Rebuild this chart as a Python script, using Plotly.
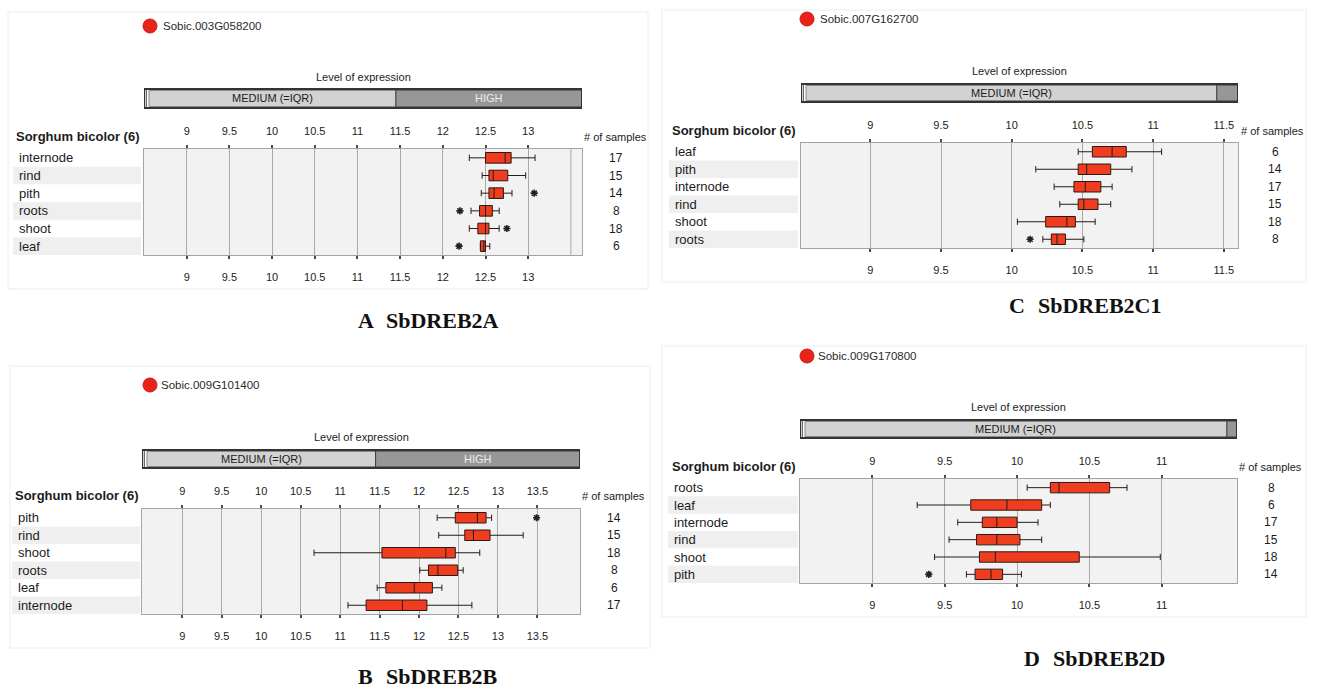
import plotly.graph_objects as go

W, H = 1318, 692

# ---------------- data ----------------
GENE_A = "Sobic.003G058200"
NAME_A = "SbDREB2A"
TISSUES_A = ["internode", "rind", "pith", "roots", "shoot", "leaf"]
COUNTS_A = [17, 15, 14, 8, 18, 6]
LOW_A = [12.31, 12.46, 12.45, 12.33, 12.31, 12.44]
Q1_A = [12.50, 12.54, 12.54, 12.43, 12.41, 12.44]
MED_A = [12.73, 12.59, 12.60, 12.50, 12.50, 12.48]
Q3_A = [12.80, 12.76, 12.71, 12.58, 12.54, 12.50]
HIGH_A = [13.08, 12.97, 12.81, 12.66, 12.66, 12.55]
OUT_TISSUE_A = ["pith", "roots", "shoot", "leaf"]
OUT_VALUE_A = [13.07, 12.20, 12.75, 12.19]
TICKS_A = [9, 9.5, 10, 10.5, 11, 11.5, 12, 12.5, 13]

GENE_B = "Sobic.009G101400"
NAME_B = "SbDREB2B"
TISSUES_B = ["pith", "rind", "shoot", "roots", "leaf", "internode"]
COUNTS_B = [14, 15, 18, 8, 6, 17]
LOW_B = [12.23, 12.25, 10.67, 12.01, 11.47, 11.10]
Q1_B = [12.46, 12.58, 11.53, 12.12, 11.58, 11.33]
MED_B = [12.74, 12.69, 12.34, 12.24, 11.94, 11.79]
Q3_B = [12.85, 12.90, 12.46, 12.49, 12.17, 12.10]
HIGH_B = [12.92, 13.32, 12.77, 12.56, 12.29, 12.67]
OUT_TISSUE_B = ["pith"]
OUT_VALUE_B = [13.49]
TICKS_B = [9, 9.5, 10, 10.5, 11, 11.5, 12, 12.5, 13, 13.5]

GENE_C = "Sobic.007G162700"
NAME_C = "SbDREB2C1"
TISSUES_C = ["leaf", "pith", "internode", "rind", "shoot", "roots"]
COUNTS_C = [6, 14, 17, 15, 18, 8]
LOW_C = [10.47, 10.17, 10.30, 10.34, 10.04, 10.22]
Q1_C = [10.57, 10.47, 10.44, 10.47, 10.24, 10.28]
MED_C = [10.71, 10.53, 10.52, 10.51, 10.39, 10.32]
Q3_C = [10.81, 10.70, 10.63, 10.61, 10.45, 10.38]
HIGH_C = [11.06, 10.85, 10.71, 10.70, 10.59, 10.51]
OUT_TISSUE_C = ["roots"]
OUT_VALUE_C = [10.13]
TICKS_C = [9, 9.5, 10, 10.5, 11, 11.5]

GENE_D = "Sobic.009G170800"
NAME_D = "SbDREB2D"
TISSUES_D = ["roots", "leaf", "internode", "rind", "shoot", "pith"]
COUNTS_D = [8, 6, 17, 15, 18, 14]
LOW_D = [10.07, 9.31, 9.59, 9.53, 9.43, 9.65]
Q1_D = [10.23, 9.68, 9.76, 9.72, 9.74, 9.71]
MED_D = [10.29, 9.93, 9.86, 9.86, 9.85, 9.82]
Q3_D = [10.64, 10.17, 10.00, 10.02, 10.43, 9.90]
HIGH_D = [10.76, 10.23, 10.145, 10.17, 10.99, 10.03]
OUT_TISSUE_D = ["pith"]
OUT_VALUE_D = [9.39]
TICKS_D = [9, 9.5, 10, 10.5, 11]

# boundary between MEDIUM and HIGH expression levels
HIGH_LEVEL = 11.45
SPECIES = "Sorghum bicolor (6)"

# ---------------- panel geometry (pixels) ----------------
PANELS = [
    dict(letter="A", gene=GENE_A, name=NAME_A, tissues=TISSUES_A, counts=COUNTS_A,
         low=LOW_A, q1=Q1_A, med=MED_A, q3=Q3_A, high=HIGH_A,
         out_t=OUT_TISSUE_A, out_v=OUT_VALUE_A, ticks=TICKS_A, extra_grid=[13.5],
         xr=[8.5, 13.63], plot=(144, 149, 582, 255), bar=(89, 108), level_y=77,
         dot=(150, 26), gene_x=161, sp=(14, 136), band=(13, 141),
         ns=(615, 137), cnt_x=616, cap=(357, 385, 321), frame=(8, 12, 648, 289)),
    dict(letter="B", gene=GENE_B, name=NAME_B, tissues=TISSUES_B, counts=COUNTS_B,
         low=LOW_B, q1=Q1_B, med=MED_B, q3=Q3_B, high=HIGH_B,
         out_t=OUT_TISSUE_B, out_v=OUT_VALUE_B, ticks=TICKS_B, extra_grid=[],
         xr=[8.49, 14.04], plot=(142, 509, 580, 614), bar=(450, 468), level_y=437,
         dot=(150, 385), gene_x=159, sp=(13, 495), band=(12, 140),
         ns=(613, 496), cnt_x=614, cap=(357, 385, 676), frame=(10, 366, 650, 648)),
    dict(letter="C", gene=GENE_C, name=NAME_C, tissues=TISSUES_C, counts=COUNTS_C,
         low=LOW_C, q1=Q1_C, med=MED_C, q3=Q3_C, high=HIGH_C,
         out_t=OUT_TISSUE_C, out_v=OUT_VALUE_C, ticks=TICKS_C, extra_grid=[],
         xr=[8.51, 11.60], plot=(801, 143, 1238, 248), bar=(84, 102), level_y=71,
         dot=(807, 19), gene_x=818, sp=(670, 130), band=(669, 798),
         ns=(1272, 131), cnt_x=1275, cap=(1008, 1037, 305), frame=(662, 10, 1306, 282)),
    dict(letter="D", gene=GENE_D, name=NAME_D, tissues=TISSUES_D, counts=COUNTS_D,
         low=LOW_D, q1=Q1_D, med=MED_D, q3=Q3_D, high=HIGH_D,
         out_t=OUT_TISSUE_D, out_v=OUT_VALUE_D, ticks=TICKS_D, extra_grid=[],
         xr=[8.50, 11.52], plot=(800, 479, 1237, 583), bar=(420, 438), level_y=407,
         dot=(807, 356), gene_x=816, sp=(670, 466), band=(668, 798),
         ns=(1270, 467), cnt_x=1271, cap=(1023, 1052, 658), frame=(662, 346, 1306, 617)),
]

FONT = "Liberation Sans, Arial, sans-serif"
SERIF = "Liberation Serif, Times New Roman, serif"
TXT = "#1c1c1c"
BOX_FILL = "#f03c1f"
BOX_LINE = "#2a1a16"
GRID = "#a9a9a9"
FRAME = "#a4a4a4"
CAPTION_SIZE = 22


def fx(p):
    return p / W


def fy(p):
    return 1 - p / H


fig = go.Figure()
shapes, annotations = [], []
layout = {}

for k, P in enumerate(PANELS, start=1):
    sx = "" if k == 1 else str(k)
    xname, yname = "x" + sx, "y" + sx
    xb = "x" + str(k + 4)
    x0, y0, x1, y1 = P["plot"]
    lo, hi = P["xr"]
    n = len(P["tissues"])
    rows = list(range(n))
    tick_text = [("%g" % v) for v in P["ticks"]]

    common = dict(range=[lo, hi], tickvals=P["ticks"], ticktext=tick_text,
                  ticks="outside", ticklen=3, tickwidth=1.5, tickcolor="#4a4a4a",
                  tickfont=dict(family=FONT, size=11, color=TXT), zeroline=False,
                  fixedrange=True)
    layout["xaxis" + sx] = dict(common, domain=[fx(x0), fx(x1)], anchor=yname,
                                side="top", showgrid=True, gridcolor=GRID, gridwidth=1,
                                showline=True, linecolor=FRAME, linewidth=1, mirror=True,
                                ticklabelstandoff=6)
    layout["xaxis" + str(k + 4)] = dict(common, overlaying=xname, anchor=yname,
                                        side="bottom", showgrid=False, showline=False,
                                        ticklabelstandoff=9)
    layout["yaxis" + sx] = dict(domain=[fy(y1), fy(y0)], anchor=xname,
                                range=[n - 0.5, -0.5], showticklabels=False,
                                showgrid=False, zeroline=False, ticks="",
                                showline=True, linecolor=FRAME, linewidth=1,
                                mirror=True, fixedrange=True)

    # invisible trace to keep the bottom tick axis alive
    fig.add_trace(go.Scatter(x=[lo], y=[0], xaxis=xb, yaxis=yname, mode="markers",
                             marker=dict(opacity=0), hoverinfo="skip",
                             showlegend=False))

    # box plots from precomputed statistics
    fig.add_trace(go.Box(
        y=rows, q1=P["q1"], median=P["med"], q3=P["q3"],
        lowerfence=P["low"], upperfence=P["high"],
        orientation="h", width=0.6, whiskerwidth=0.6, boxpoints=False,
        fillcolor=BOX_FILL, line=dict(color=BOX_LINE, width=1),
        xaxis=xname, yaxis=yname, showlegend=False, hoverinfo="skip"))

    # outliers
    out_rows = [P["tissues"].index(t) for t in P["out_t"]]
    fig.add_trace(go.Scatter(
        x=P["out_v"], y=out_rows, mode="markers", xaxis=xname, yaxis=yname,
        marker=dict(symbol="asterisk-open", size=6, color="#222222",
                    line=dict(width=1.6, color="#222222")),
        showlegend=False, hoverinfo="skip"))

    # extra gridlines without ticks
    for g in P["extra_grid"]:
        shapes.append(dict(type="line", xref=xname, yref=yname + " domain",
                           x0=g, x1=g, y0=0, y1=1, layer="below",
                           line=dict(color=GRID, width=1)))

    # panel frame
    fx0, fy0, fx1, fy1 = P["frame"]
    shapes.append(dict(type="rect", xref="paper", yref="paper", layer="below",
                       x0=fx(fx0), x1=fx(fx1), y0=fy(fy1), y1=fy(fy0),
                       line=dict(color="#ececec", width=1), fillcolor="rgba(0,0,0,0)"))

    # row label bands and labels
    bx0, bx1 = P["band"]
    for i, t in enumerate(P["tissues"]):
        if i % 2 == 1:
            shapes.append(dict(type="rect", xref="paper", yref=yname, layer="below",
                               x0=fx(bx0), x1=fx(bx1), y0=i - 0.5, y1=i + 0.5,
                               fillcolor="#efefef", line=dict(width=0)))
        annotations.append(dict(text=t, xref="paper", yref=yname, x=fx(bx0 + 4),
                                y=i, xanchor="left", yanchor="middle", showarrow=False,
                                font=dict(family=FONT, size=13, color=TXT)))
        annotations.append(dict(text=str(P["counts"][i]), xref="paper", yref=yname,
                                x=fx(P["cnt_x"]), y=i, xanchor="center",
                                yanchor="middle", showarrow=False,
                                font=dict(family=FONT, size=12, color=TXT)))

    # species header and sample count header
    annotations.append(dict(text="<b>" + SPECIES + "</b>", xref="paper", yref="paper",
                            x=fx(P["sp"][0]), y=fy(P["sp"][1]), xanchor="left",
                            yanchor="middle", showarrow=False,
                            font=dict(family=FONT, size=13, color=TXT)))
    annotations.append(dict(text="# of samples", xref="paper", yref="paper",
                            x=fx(P["ns"][0]), y=fy(P["ns"][1]), xanchor="center",
                            yanchor="middle", showarrow=False,
                            font=dict(family=FONT, size=11, color=TXT)))

    # expression level bar
    by0, by1 = P["bar"]
    slot = 5 * (hi - lo) / (x1 - x0)
    shapes.append(dict(type="rect", xref=xname, yref="paper", x0=lo, x1=hi,
                       y0=fy(by1), y1=fy(by0), fillcolor="#ffffff",
                       line=dict(width=0)))
    shapes.append(dict(type="rect", xref=xname, yref="paper", x0=lo + slot,
                       x1=HIGH_LEVEL, y0=fy(by1 - 1.5), y1=fy(by0 + 1.5),
                       fillcolor="#d2d2d2", line=dict(color="#8a8a8a", width=1)))
    shapes.append(dict(type="rect", xref=xname, yref="paper", x0=HIGH_LEVEL,
                       x1=hi, y0=fy(by1 - 1), y1=fy(by0 + 1),
                       fillcolor="#979797", line=dict(color="#3a3a3a", width=1)))
    shapes.append(dict(type="line", xref=xname, yref="paper", x0=lo + slot * 0.45,
                       x1=lo + slot * 0.45, y0=fy(by1), y1=fy(by0),
                       line=dict(color="#3a3a3a", width=1)))
    shapes.append(dict(type="rect", xref=xname, yref="paper", x0=lo, x1=hi,
                       y0=fy(by1), y1=fy(by0), fillcolor="rgba(0,0,0,0)",
                       line=dict(color="#333333", width=2)))
    annotations.append(dict(text="MEDIUM (=IQR)", xref=xname, yref="paper",
                            x=(lo + slot + HIGH_LEVEL) / 2, y=fy((by0 + by1) / 2),
                            xanchor="center", yanchor="middle", showarrow=False,
                            font=dict(family=FONT, size=11, color=TXT)))
    if hi - HIGH_LEVEL > 1.0:
        annotations.append(dict(text="HIGH", xref=xname, yref="paper",
                                x=(HIGH_LEVEL + hi) / 2, y=fy((by0 + by1) / 2),
                                xanchor="center", yanchor="middle", showarrow=False,
                                font=dict(family=FONT, size=11, color="#eeeeee")))
    annotations.append(dict(text="Level of expression", xref=xname, yref="paper",
                            x=(lo + hi) / 2, y=fy(P["level_y"]), xanchor="center",
                            yanchor="middle", showarrow=False,
                            font=dict(family=FONT, size=11, color=TXT)))

    # gene marker and id
    dx, dy = P["dot"]
    shapes.append(dict(type="circle", xref="paper", yref="paper",
                       xsizemode="pixel", ysizemode="pixel",
                       xanchor=fx(dx), yanchor=fy(dy), x0=-7, x1=7, y0=-7, y1=7,
                       fillcolor="#e8231b", line=dict(color="#d01a12", width=1)))
    annotations.append(dict(text=P["gene"], xref="paper", yref="paper",
                            x=fx(P["gene_x"]), y=fy(dy), xanchor="left",
                            yanchor="middle", showarrow=False,
                            font=dict(family=FONT, size=11.5, color="#2a2a2a")))

    # panel caption
    cl, cg, cy = P["cap"]
    for text, cx in (("<b>" + P["letter"] + "</b>", cl), ("<b>" + P["name"] + "</b>", cg)):
        annotations.append(dict(text=text, xref="paper", yref="paper",
                                x=fx(cx), y=fy(cy), xanchor="left",
                                yanchor="middle", showarrow=False, borderpad=0,
                                font=dict(family=SERIF, size=CAPTION_SIZE,
                                          color="#111111")))

fig.update_layout(
    width=W, height=H, margin=dict(l=0, r=0, t=0, b=0),
    paper_bgcolor="#ffffff", plot_bgcolor="#f2f2f2",
    font=dict(family=FONT, color=TXT), showlegend=False,
    shapes=shapes, annotations=annotations, **layout)

fig.write_html("out.html")
